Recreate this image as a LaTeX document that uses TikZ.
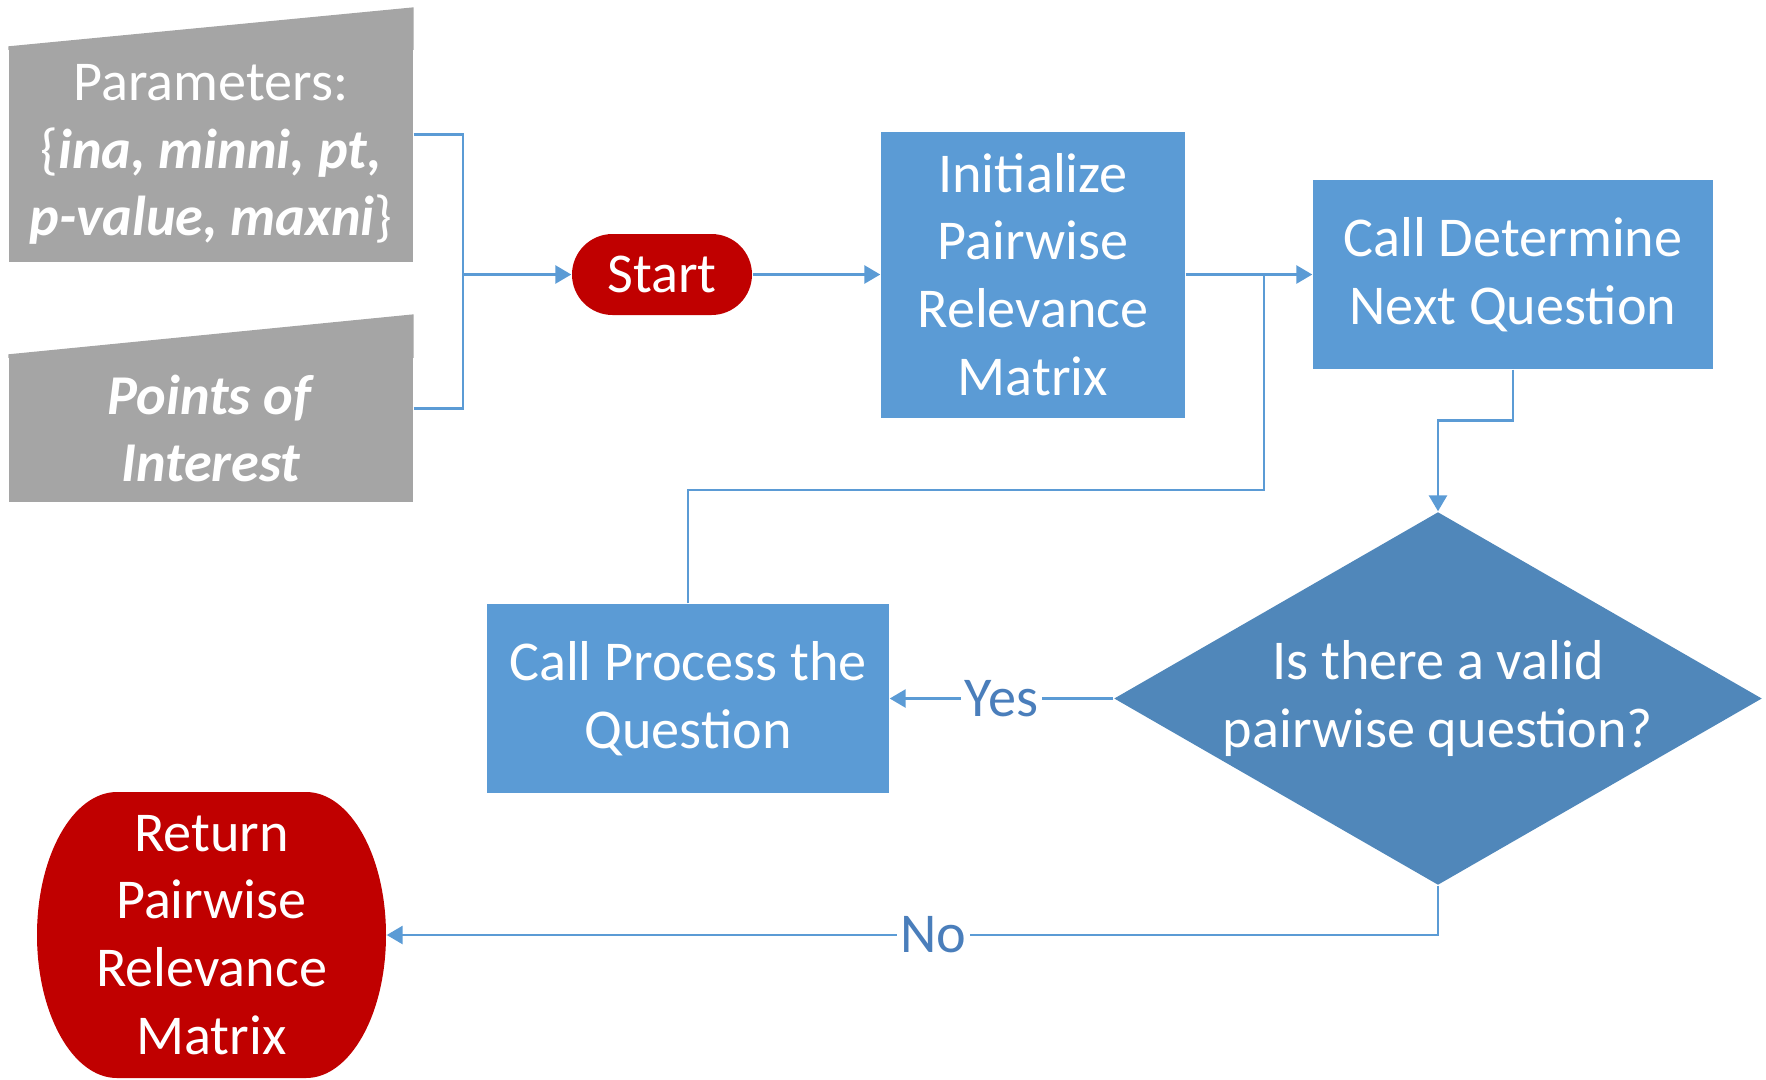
\documentclass[tikz,border=0pt]{standalone}
\usepackage{fontspec}
\setmainfont{Carlito}
\usetikzlibrary{shapes.geometric,arrows.meta}
\definecolor{boxblue}{RGB}{91,155,213}
\definecolor{diamblue}{RGB}{80,135,186}
\definecolor{termred}{RGB}{192,0,0}
\definecolor{inputgray}{RGB}{165,165,165}
\definecolor{labelblue}{RGB}{74,126,187}

\begin{document}
\begin{tikzpicture}[
	font=\fontsize{16}{19.3}\selectfont,
	link/.style={draw=boxblue, line width=0.8pt},
	arrow/.style={link, -{Triangle[length=1.6mm,width=1.8mm]}},
	process/.style={rectangle, fill=boxblue, text=white, align=center},
	inputbox/.style={rectangle, fill=inputgray, text=white, align=center, minimum width=4.04cm},
	decision/.style={diamond, fill=diamblue, text=white, align=center, inner sep=0pt, shape aspect=1.74, minimum width=6.48cm, minimum height=3.73cm},
	termshape/.style 2 args={rectangle, text=white, align=center,
		path picture={\fill[termred] ([xshift=#1]path picture bounding box.north west) -- ([xshift=-#1]path picture bounding box.north east) arc[start angle=90, end angle=-90, x radius=#1, y radius=#2] -- ([xshift=#1]path picture bounding box.south west) arc[start angle=270, end angle=90, x radius=#1, y radius=#2] -- cycle;}},
	answer/.style={fill=white, text=labelblue, inner sep=1pt}
]
			\useasboundingbox (0,0) rectangle (17.66,-10.79);
			\node[inputbox, minimum height=2.15cm] (params) at (2.11,-1.545) {Parameters:\\\{\textbf{\textit{ina, minni, pt,}}\\\textbf{\textit{p-value, maxni}}\}};
			\node[inputbox, minimum height=1.47cm] (poi) at (2.11,-4.285) {\textbf{\textit{Points of}}\\\textbf{\textit{Interest}}};
			\fill[inputgray] ([yshift=-1pt]params.north west) -- (params.north west) -- ([yshift=3.9mm]params.north east) -- ([yshift=-1pt]params.north east) -- cycle;
			\fill[inputgray] ([yshift=-1pt]poi.north west) -- (poi.north west) -- ([yshift=4mm]poi.north east) -- ([yshift=-1pt]poi.north east) -- cycle;
			\node[termshape={4.05mm}{4.05mm}, minimum width=1.8cm, minimum height=0.81cm] (start) at (6.62,-2.745) {Start};
			\node[process, minimum width=3.04cm, minimum height=2.86cm] (init) at (10.33,-2.745) {Initialize\\Pairwise\\Relevance\\Matrix};
			\node[process, minimum width=4cm, minimum height=1.89cm] (determine) at (15.13,-2.745) {Call Determine\\Next Question};
			\node[decision] (valid) at (14.38,-6.985) {Is there a valid\\pairwise question?};
			\node[process, minimum width=4.02cm, minimum height=1.89cm] (callproc) at (6.88,-6.985) {Call Process the\\Question};
			\node[termshape={8mm}{14.3mm}, minimum width=3.49cm, minimum height=2.86cm] (ret) at (2.115,-9.35) {Return\\Pairwise\\Relevance\\Matrix};
			\coordinate (merge) at (4.63,-2.745);
			\coordinate (loop) at (12.64,-4.90);
			\draw[link] ([yshift=2mm]params.east) -| (merge);
			\draw[link] ([yshift=2mm]poi.east) -| (merge);
			\draw[arrow] (merge) -- (start);
			\draw[arrow] (start) -- (init);
			\draw[arrow] (init) -- (determine);
			\draw[link] (callproc) |- (loop) -- (loop |- init);
			\draw[arrow] (determine.south) -- ++(0,-0.51) -| (valid);
			\draw[arrow] (valid) -- node[answer] {Yes} (callproc);
			\draw[arrow] (valid) |- node[answer, pos=0.74] {No} (ret);
\end{tikzpicture}
\end{document}
